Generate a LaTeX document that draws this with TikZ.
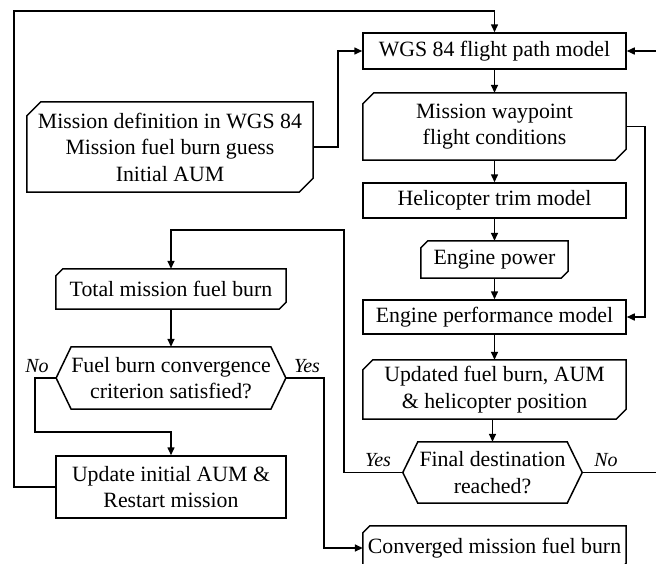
\documentclass[tikz,border=0pt]{standalone}
\usepackage{fontspec}
\setmainfont{Liberation Serif}
\usetikzlibrary{arrows.meta}
% outline of a data box: rectangle with the north-west and south-east corners cut off
\newcommand{\chamfbox}[2]{%
  \draw[flow] ([xshift=#2]#1.north west) -- (#1.north east)
    -- ([yshift=#2]#1.south east) -- ([xshift=-#2]#1.south east)
    -- (#1.south west) -- ([yshift=-#2]#1.north west) -- cycle;}
% outline of a decision: flat top and bottom, pointed left and right ends
\newcommand{\decbox}[2]{%
  \coordinate (#1L) at ([xshift=-#2]#1.west);
  \coordinate (#1R) at ([xshift=#2]#1.east);
  \draw[flow] (#1.north west) -- (#1.north east) -- (#1R)
    -- (#1.south east) -- (#1.south west) -- (#1L) -- cycle;}
\begin{document}
\begin{tikzpicture}[x=1pt,y=-1pt,
  font=\fontsize{21.8}{26.5}\selectfont,
  every node/.style={inner sep=0pt, align=center},
  flow/.style={line width=1.5pt},
  arr/.style={flow,-{Triangle[length=8pt,width=7pt]}},
  proc/.style={draw, flow, rectangle},
  data/.style={rectangle},
  dec/.style={rectangle},
  lab/.style={font=\fontsize{20}{24}\selectfont\itshape}
]
\useasboundingbox (0,0) rectangle (656,563);

% right column
\node[proc, minimum width=263pt, minimum height=36pt] (wgs) at (494.5,51) {WGS 84 flight path model};
\node[data, minimum width=263pt, minimum height=67pt] (wp) at (494.5,126.5) {Mission waypoint\\flight conditions};
\chamfbox{wp}{11pt}
\node[proc, minimum width=263pt, minimum height=35pt] (trim) at (494.5,200.5) {Helicopter trim model};
\node[data, minimum width=147pt, minimum height=37pt] (pow) at (494.5,259.5) {Engine power};
\chamfbox{pow}{7pt}
\node[proc, minimum width=263pt, minimum height=34pt] (perf) at (494.5,317) {Engine performance model};
\node[data, minimum width=263pt, minimum height=59pt] (upd) at (494.5,389.5) {Updated fuel burn, AUM\\\& helicopter position};
\chamfbox{upd}{10pt}
\node[dec, minimum width=149pt, minimum height=61pt] (fin) at (492.5,472.5) {Final destination\\reached?};
\decbox{fin}{15pt}
\node[data, minimum width=263pt, minimum height=44pt] (conv) at (494.5,548) {Converged mission fuel burn};
\chamfbox{conv}{7pt}

% left column
\node[data, minimum width=286pt, minimum height=90pt] (def) at (170,147) {Mission definition in WGS 84\\Mission fuel burn guess\\Initial AUM};
\chamfbox{def}{14pt}
\node[data, minimum width=230pt, minimum height=40pt] (tot) at (171,289) {Total mission fuel burn};
\chamfbox{tot}{7pt}
\node[dec, minimum width=198pt, minimum height=62pt] (crit) at (171,378) {Fuel burn convergence\\criterion satisfied?};
\decbox{crit}{15pt}
\node[proc, minimum width=230pt, minimum height=62pt] (rst) at (171,487) {Update initial AUM \&\\Restart mission};

% branch labels
\node[lab] (noC) at (37,366) {No};
\node[lab] (yesC) at (307,366) {Yes};
\node[lab] (yesF) at (378,460) {Yes};
\node[lab] (noF) at (606,460) {No};

% main chain
\draw[arr] (wgs) -- (wp);
\draw[arr] (wp) -- (trim);
\draw[arr] (trim) -- (pow);
\draw[arr] (pow) -- (perf);
\draw[arr] (perf) -- (upd);
\draw[arr] (upd.south -| fin.north) -- (fin.north);
\draw[arr] (tot) -- (crit);

% mission inputs into the flight path model
\draw[arr] (def.east) -- (338,147) |- (wgs.west);
% waypoint conditions feed the engine performance model
\draw[arr] (wp.east) -- (645,126.5) |- (perf.east);
% not yet at destination: next flight path segment
\draw[arr] (finR) -- (657,472.5) |- (wgs.east);
% destination reached: sum the fuel burn
\draw[arr] (finL) -- (344,472.5) -- (344,230) -| (tot.north);
% not converged: restart
\draw[arr] (critL) -- (35,378) -- (35,432) -| (rst.north);
\draw[arr] (rst.west) -- (14,487) -- (14,11) -| (wgs.north);
% converged
\draw[arr] (critR) -- (324,378) |- (conv.west);
\end{tikzpicture}
\end{document}
